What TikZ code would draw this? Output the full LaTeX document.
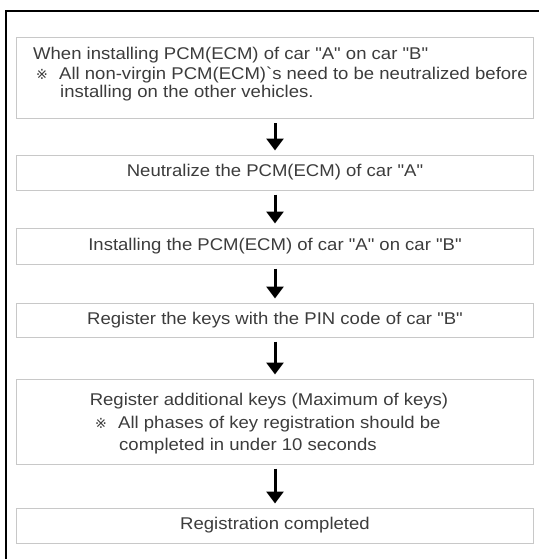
\documentclass[tikz,border=0pt]{standalone}
\usepackage{fontspec}
\setmainfont{Liberation Sans}[FakeStretch=1.09, Ligatures=TeXOff]
\newfontfamily\markfont{DejaVu Sans}
\usetikzlibrary{arrows.meta, positioning, calc}
\definecolor{boxgray}{RGB}{200, 200, 200}
\definecolor{textgray}{RGB}{60, 60, 60}

\begin{document}
\begin{tikzpicture}[x=1pt, y=-1pt,
  stepbox/.style={draw=boxgray, line width=1pt, minimum width=517pt, inner sep=0pt,
    text=textgray, font=\fontsize{17}{19}\selectfont},
  txt/.style={text=textgray, font=\fontsize{17}{19}\selectfont, inner sep=0pt},
  refmark/.style={text=textgray, font=\markfont\fontsize{14}{16}\selectfont, inner sep=0pt},
  flowarrow/.style={line width=3pt, -{Triangle[width=17pt,length=12pt]},
    shorten <=4pt, shorten >=4pt}]
  \useasboundingbox (0,0) rectangle (538,559);
  \draw[line width=2pt] (6,600) -- (6,11) -- (600,11);
  \node[stepbox, minimum height=81pt] (install) at (275,78.5) {};
  \node[stepbox, minimum height=35pt] (neutral) at (275,172.5) {Neutralize the PCM(ECM) of car "A"};
  \node[stepbox, minimum height=36pt] (mount) at (275,246) {Installing the PCM(ECM) of car "A" on car "B"};
  \node[stepbox, minimum height=34pt] (pinreg) at (275,320) {Register the keys with the PIN code of car "B"};
  \node[stepbox, minimum height=85pt] (addkeys) at (275,421.5) {};
  \node[stepbox, minimum height=35pt] (done) at (275,525.5) {Registration completed};
  \node[txt, anchor=base west] (inst1) at (33,60) {When installing PCM(ECM) of car "A" on car "B"};
  \node[refmark, anchor=base west] (mark1) at (36,79.5) {※};
  \node[txt, anchor=base west] (inst2) at (59,79.5) {All non-virgin PCM(ECM)`s need to be neutralized before};
  \node[txt, anchor=base west] (inst3) at (60,98) {installing on the other vehicles.};
  \node[txt, anchor=base] (add1) at (269,405) {Register additional keys (Maximum of keys)};
  \node[refmark, anchor=base west] (mark2) at (95,428) {※};
  \node[txt, anchor=base west] (add2) at (118,428) {All phases of key registration should be};
  \node[txt, anchor=base west] (add3) at (119,450) {completed in under 10 seconds};
  \draw[flowarrow] (install) -- (neutral);
  \draw[flowarrow] (neutral) -- (mount);
  \draw[flowarrow] (mount) -- (pinreg);
  \draw[flowarrow] (pinreg) -- (addkeys);
  \draw[flowarrow] (addkeys) -- (done);
\end{tikzpicture}
\end{document}
